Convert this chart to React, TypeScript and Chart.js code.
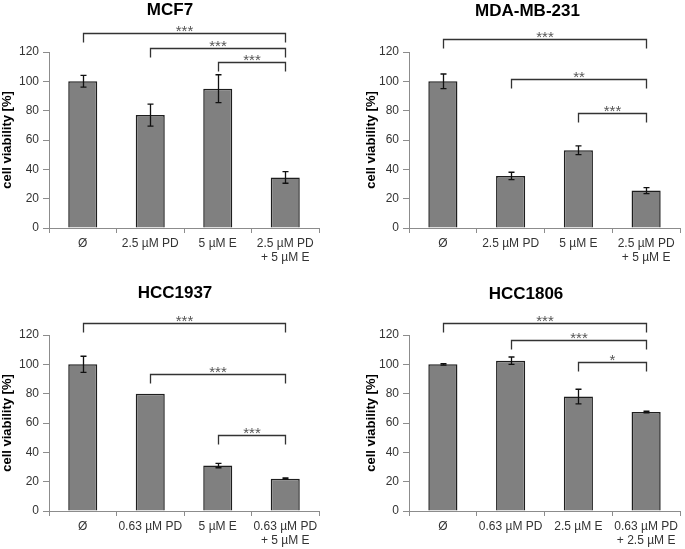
import React, { useEffect, useRef } from "react";
import { Chart, registerables } from "chart.js";

Chart.register(...registerables);

// ---------- data ----------
const mcf7Categories = ["Ø", "2.5 µM PD", "5 µM E", ["2.5 µM PD", "+ 5 µM E"]];
const mcf7Values = [100, 77, 95, 34.5];
const mcf7Errors = [4, 7.5, 9.5, 4];
const mcf7Brackets: [number, number, number, string][] = [
  [0, 3, 133, "***"],
  [1, 3, 123, "***"],
  [2, 3, 113.3, "***"],
];

const mdaCategories = ["Ø", "2.5 µM PD", "5 µM E", ["2.5 µM PD", "+ 5 µM E"]];
const mdaValues = [100, 35.5, 53, 25.5];
const mdaErrors = [5, 2.5, 3, 2];
const mdaBrackets: [number, number, number, string][] = [
  [0, 3, 129, "***"],
  [1, 3, 101.5, "**"],
  [2, 3, 78.5, "***"],
];

const hcc1937Categories = ["Ø", "0.63 µM PD", "5 µM E", ["0.63 µM PD", "+ 5 µM E"]];
const hcc1937Values = [100, 80, 31, 22];
const hcc1937Errors = [5.5, 0, 1.5, 0.5];
const hcc1937Brackets: [number, number, number, string][] = [
  [0, 3, 128.5, "***"],
  [1, 3, 93.5, "***"],
  [2, 3, 52, "***"],
];

const hcc1806Categories = ["Ø", "0.63 µM PD", "2.5 µM E", ["0.63 µM PD", "+ 2.5 µM E"]];
const hcc1806Values = [100, 102.5, 78, 67.5];
const hcc1806Errors = [0.5, 2.5, 5, 0.5];
const hcc1806Brackets: [number, number, number, string][] = [
  [0, 3, 128.5, "***"],
  [1, 3, 116.5, "***"],
  [2, 3, 101.5, "*"],
];

const yTicksMin = 0;
const yTicksMax = 120;
const yTickStep = 20;
const yAxisTitle = "cell viability [%]";

// ---------- layout ----------
const FONT = "'Liberation Sans', Arial, Helvetica, sans-serif";

type Panel = {
  title: string;
  categories: any[];
  values: number[];
  errors: number[];
  brackets: [number, number, number, string][];
  cell: { left: number; top: number; w: number; h: number };
  area: { left: number; right: number; top: number; bottom: number };
  padLeft: number;
  titlePos: { x: number; y: number };
};

const panels: Panel[] = [
  {
    title: "MCF7",
    categories: mcf7Categories,
    values: mcf7Values,
    errors: mcf7Errors,
    brackets: mcf7Brackets,
    cell: { left: 0, top: 0, w: 342, h: 275 },
    area: { left: 49, right: 319, top: 52, bottom: 228 },
    padLeft: 0,
    titlePos: { x: 170, y: 10.5 },
  },
  {
    title: "MDA-MB-231",
    categories: mdaCategories,
    values: mdaValues,
    errors: mdaErrors,
    brackets: mdaBrackets,
    cell: { left: 342, top: 0, w: 343, h: 275 },
    area: { left: 67, right: 338, top: 52, bottom: 228 },
    padLeft: 22,
    titlePos: { x: 185.5, y: 11 },
  },
  {
    title: "HCC1937",
    categories: hcc1937Categories,
    values: hcc1937Values,
    errors: hcc1937Errors,
    brackets: hcc1937Brackets,
    cell: { left: 0, top: 275, w: 342, h: 274 },
    area: { left: 49, right: 319, top: 60, bottom: 236 },
    padLeft: 0,
    titlePos: { x: 175, y: 18.5 },
  },
  {
    title: "HCC1806",
    categories: hcc1806Categories,
    values: hcc1806Values,
    errors: hcc1806Errors,
    brackets: hcc1806Brackets,
    cell: { left: 342, top: 275, w: 343, h: 274 },
    area: { left: 67, right: 338, top: 60, bottom: 236 },
    padLeft: 22,
    titlePos: { x: 184, y: 19 },
  },
];

function makePlugins(p: Panel) {
  return [
    {
      id: "panelExtras",
      afterDatasetsDraw(chart: any) {
        const ctx = chart.ctx as CanvasRenderingContext2D;
        const meta = chart.getDatasetMeta(0);
        const ys = chart.scales.y;
        ctx.save();
        // error bars
        ctx.strokeStyle = "#111";
        ctx.lineWidth = 1.3;
        p.errors.forEach((e, i) => {
          if (!e) return;
          const x = Math.round(meta.data[i].x) + 0.5;
          const v = p.values[i];
          const t = ys.getPixelForValue(v + e);
          const b = ys.getPixelForValue(v - e);
          ctx.beginPath();
          ctx.moveTo(x, t);
          ctx.lineTo(x, b);
          ctx.moveTo(x - 3, t);
          ctx.lineTo(x + 3, t);
          ctx.moveTo(x - 3, b);
          ctx.lineTo(x + 3, b);
          ctx.stroke();
        });
        // significance brackets
        ctx.strokeStyle = "#333";
        ctx.lineWidth = 1.3;
        ctx.fillStyle = "#555";
        ctx.font = `15px ${FONT}`;
        ctx.textAlign = "center";
        ctx.textBaseline = "alphabetic";
        const drop = 9;
        p.brackets.forEach(([a, b, level, label]) => {
          const x1 = Math.round(meta.data[a].x) + 0.5;
          const x2 = Math.round(meta.data[b].x) + 0.5;
          const yl = Math.round(ys.getPixelForValue(level)) + 0.5;
          ctx.beginPath();
          ctx.moveTo(x1, yl + drop);
          ctx.lineTo(x1, yl);
          ctx.lineTo(x2, yl);
          ctx.lineTo(x2, yl + drop);
          ctx.stroke();
          ctx.fillText(label, (x1 + x2) / 2, yl + 2);
        });
        // title
        ctx.fillStyle = "#000";
        ctx.font = `bold 17px ${FONT}`;
        ctx.textBaseline = "middle";
        ctx.fillText(p.title, p.titlePos.x, p.titlePos.y);
        ctx.restore();
      },
    },
  ];
}

function PanelChart({ p }: { p: Panel }) {
  const ref = useRef<HTMLCanvasElement | null>(null);
  useEffect(() => {
    if (!ref.current) return;
    const axisColor = "#8c8c8c";
    const chart = new Chart(ref.current, {
      type: "bar",
      data: {
        labels: p.categories,
        datasets: [
          {
            data: p.values,
            backgroundColor: "#808080",
            borderColor: "#1e1e1e",
            borderWidth: 1.5,
            barPercentage: 0.43,
            categoryPercentage: 1,
          },
        ],
      },
      options: {
        animation: false,
        responsive: false,
        devicePixelRatio: 1,
        layout: {
          padding: {
            left: p.padLeft,
            top: p.area.top,
            right: p.cell.w - p.area.right,
            bottom: 0,
          },
        },
        plugins: {
          legend: { display: false },
          tooltip: { enabled: false },
          title: { display: false },
        },
        scales: {
          x: {
            type: "category",
            offset: true,
            grid: {
              offset: true,
              drawOnChartArea: false,
              drawTicks: true,
              tickLength: 5,
              color: axisColor,
            },
            border: { color: axisColor, width: 1 },
            ticks: {
              font: { family: FONT, size: 12 },
              color: "#333",
              padding: 3,
              maxRotation: 0,
              autoSkip: false,
            },
            afterFit: (s: any) => {
              s.height = p.cell.h - p.area.bottom;
            },
          },
          y: {
            min: yTicksMin,
            max: yTicksMax,
            ticks: {
              stepSize: yTickStep,
              font: { family: FONT, size: 12 },
              color: "#333",
              padding: 4,
            },
            grid: {
              drawOnChartArea: false,
              drawTicks: true,
              tickLength: 6,
              color: axisColor,
            },
            border: { color: axisColor, width: 1 },
            title: {
              display: true,
              text: yAxisTitle,
              font: { family: FONT, size: 13, weight: "bold" },
              color: "#000",
              padding: 0,
            },
            afterFit: (s: any) => {
              s.width = p.area.left - p.padLeft;
            },
          },
        },
      } as any,
      plugins: makePlugins(p) as any,
    });
    return () => chart.destroy();
  }, [p]);
  return (
    <canvas
      ref={ref}
      width={p.cell.w}
      height={p.cell.h}
      style={{
        position: "absolute",
        left: p.cell.left,
        top: p.cell.top,
        width: p.cell.w,
        height: p.cell.h,
      }}
    />
  );
}

export default function App() {
  return (
    <div
      style={{
        position: "fixed",
        left: 0,
        top: 0,
        width: 685,
        height: 549,
        background: "#fff",
        overflow: "hidden",
      }}
    >
      {panels.map((p) => (
        <PanelChart key={p.title} p={p} />
      ))}
    </div>
  );
}
